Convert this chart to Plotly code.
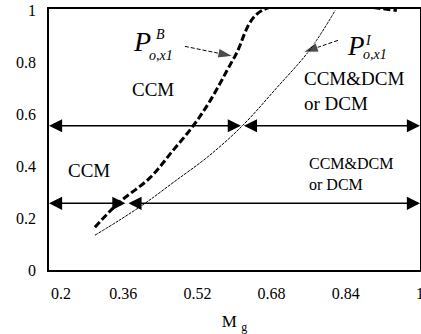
import plotly.graph_objects as go

# ---- data ----
pb_x = [0.299, 0.349, 0.418, 0.467, 0.511, 0.547, 0.601, 0.659, 0.950]
pb_y = [0.165, 0.257, 0.356, 0.460, 0.556, 0.651, 0.824, 1.000, 1.000]

pi_x = [0.299, 0.350, 0.407, 0.470, 0.545, 0.617, 0.690, 0.763, 0.817]
pi_y = [0.134, 0.190, 0.257, 0.340, 0.440, 0.556, 0.700, 0.850, 1.000]

upper_level = 0.556
lower_level = 0.257
upper_split = 0.617
lower_split = 0.368
x_min, x_max = 0.2, 1.0

x_tickvals = [0.2, 0.36, 0.52, 0.68, 0.84, 1.0]
x_ticktext = ["\u00a0\u00a0\u00a0\u00a0\u00a0\u00a00.2", "0.36", "0.52", "0.68", "0.84", "1"]
y_tickvals = [0, 0.2, 0.4, 0.6, 0.8, 1.0]
y_ticktext = ["0", "0.2", "0.4", "0.6", "0.8", "1"]

pb_pointer_x = [0.493, 0.597]
pb_pointer_y = [0.862, 0.824]
pi_pointer_x = [0.823, 0.748]
pi_pointer_y = [0.885, 0.839]

SERIF = "Liberation Serif, Times New Roman, DejaVu Serif, serif"

fig = go.Figure()

fig.add_trace(go.Scatter(
    x=pb_x, y=pb_y, mode="lines", line=dict(color="black", width=3, dash="7px,3px"),
    line_shape="spline", showlegend=False, hoverinfo="skip"))
fig.add_trace(go.Scatter(
    x=pi_x, y=pi_y, mode="lines", line=dict(color="black", width=1, dash="3px,1px"),
    line_shape="spline", showlegend=False, hoverinfo="skip"))

for px_, py_ in [(pb_pointer_x, pb_pointer_y), (pi_pointer_x, pi_pointer_y)]:
    fig.add_trace(go.Scatter(
        x=px_, y=py_, mode="lines+markers",
        line=dict(color="black", width=1, dash="4px,2px"),
        marker=dict(symbol="arrow", size=[0, 16], color="black", angleref="previous"),
        showlegend=False, hoverinfo="skip", cliponaxis=False))

# horizontal double-headed arrows
arrow_style = dict(showarrow=True, arrowhead=2, startarrowhead=2, arrowside="end+start",
                   arrowsize=1.75, startarrowsize=1.75, arrowwidth=1.5, arrowcolor="black",
                   axref="x", ayref="y", xref="x", yref="y", text="", standoff=0, startstandoff=0)
for lvl, split in [(upper_level, upper_split), (lower_level, lower_split)]:
    fig.add_annotation(x=x_min, y=lvl, ax=split, ay=lvl, **arrow_style)
    fig.add_annotation(x=x_max, y=lvl, ax=split, ay=lvl, **arrow_style)

def txt(x, y, s, size, xanchor="center", italic=False, align="center"):
    fig.add_annotation(x=x, y=y, text=s, showarrow=False, xanchor=xanchor, yanchor="middle",
                       align=align,
                       font=dict(family=SERIF, size=size, color="black",
                                 style="italic" if italic else "normal"))

txt(0.424, 0.697, "CCM", 19)
txt(0.286, 0.383, "CCM", 19)
txt(0.7456, 0.69, "CCM&amp;DCM<br>or DCM", 19, xanchor="left", align="left")
txt(0.7563, 0.37, "CCM&amp;DCM<br>or DCM", 16, xanchor="left", align="left")

# P^B_{o,x1}
txt(0.4005, 0.881, "P", 28, italic=True)
txt(0.4264, 0.908, "B", 14, xanchor="left", italic=True)
txt(0.4113, 0.828, "o,x1", 14, xanchor="left", italic=True)
# P^I_{o,x1}
txt(0.862, 0.862, "P", 27, italic=True)
txt(0.877, 0.885, "I", 14, xanchor="left", italic=True)
txt(0.873, 0.831, "o,x1", 14, xanchor="left", italic=True)

axis_common = dict(showline=True, linecolor="black", linewidth=1.5, mirror=True,
                   showgrid=False, zeroline=False, ticks="", automargin=False,
                   ticklabeloverflow="allow",
                   tickfont=dict(family=SERIF, size=16, color="black"))

fig.update_xaxes(range=[x_min, x_max], tickvals=x_tickvals, ticktext=x_ticktext,
                 ticklabelstandoff=8,
                 title=dict(text="M <sub>g</sub>", font=dict(family=SERIF, size=17, color="black"),
                            standoff=16),
                 **axis_common)
fig.update_yaxes(range=[0, 1.006], tickvals=y_tickvals, ticktext=y_ticktext,
                 ticklabelstandoff=8, **axis_common)

fig.update_layout(width=421, height=334, margin=dict(l=49, r=1, t=9, b=64),
                  paper_bgcolor="white", plot_bgcolor="white", showlegend=False)

fig.write_html("out.html", config={"displayModeBar": False},
               post_script="document.body.style.margin='0px';document.body.style.padding='0px';")
